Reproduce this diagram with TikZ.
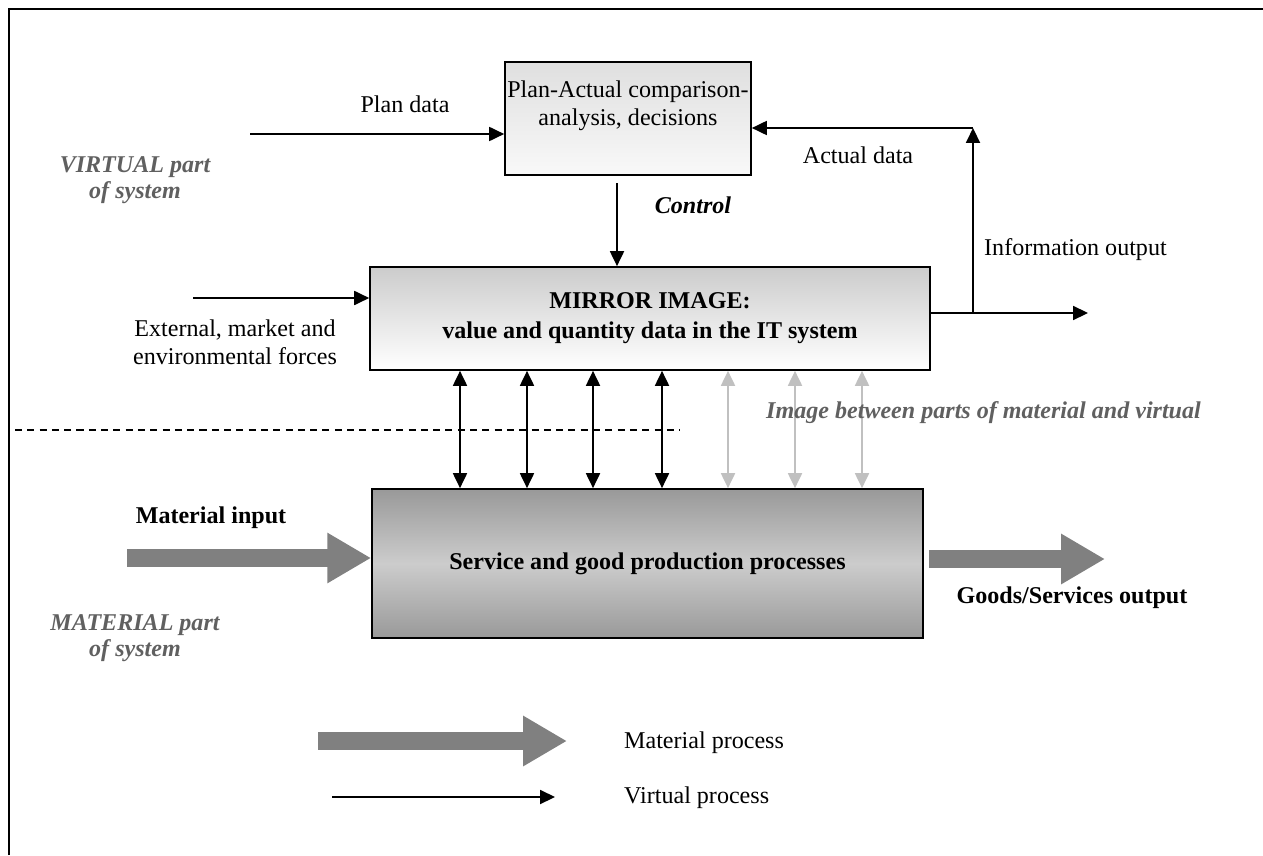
\documentclass[tikz,border=0pt]{standalone}
\usepackage{fontspec}
\setmainfont{Liberation Serif}
\usetikzlibrary{arrows.meta}
\definecolor{matgray}{HTML}{808080}
\definecolor{imggray}{HTML}{C0C0C0}
\definecolor{partgray}{HTML}{606060}
\begin{document}
\begin{tikzpicture}[
        x=0.02cm, y=-0.02cm,
        every node/.style={font=\fontsize{13.7}{16}\selectfont},
        box/.style={
          draw, line width=1pt, inner sep=0pt, align=center,
        },
        varr/.style={-{Triangle[length=8.5pt,width=8pt]}, line width=0.9pt},
        dbl/.style={{Triangle[length=8.5pt,width=8pt]}-{Triangle[length=8.5pt,width=8pt]}, line width=0.9pt},
        gdbl/.style={dbl, draw=imggray, fill=imggray},
        marr/.style={-{Triangle[length=25pt,width=27pt]}, line width=9.7pt, draw=matgray, fill=matgray},
        part/.style={font=\fontsize{13.7}{14.5}\selectfont\bfseries\itshape, text=partgray, align=center},
        bld/.style={font=\fontsize{13.7}{16}\selectfont\bfseries},
      ]
      \useasboundingbox (0,0) rectangle (1263,855);
      \draw[line width=1.2pt] (9,855) -- (9,9) -- (1263,9);

      \node[box, minimum width=4.92cm, minimum height=2.26cm,
            top color=gray!25, bottom color=gray!5] (pa) at (628,118.5) {};
      \node[align=center] (patxt) at (628,106) {Plan-Actual comparison-\\analysis, decisions};

      \node[box, minimum width=11.2cm, minimum height=2.06cm,
            top color=gray!40, bottom color=white, font=\fontsize{13.7}{17}\selectfont\bfseries]
            (mi) at (650,318.5) {MIRROR IMAGE:\\value and quantity data in the IT system};

      \node[box, minimum width=11.02cm, minimum height=2.98cm,
            top color=gray!80, bottom color=gray!80, middle color=gray!40, bld]
            (svc) at (647.5,563.5) {Service and good production processes};

      \coordinate (pd) at (250,134);
      \draw[varr] (pd) -- (pd -| pa.west);
      \node (pdl) at (405,104) {Plan data};

      \coordinate (ctl) at (617,183);
      \draw[varr] (ctl) -- (ctl |- mi.north);
      \node[font=\fontsize{13.7}{16}\selectfont\bfseries\itshape] (ctll) at (693,205) {Control};

      \coordinate (tap) at (973,313);
      \coordinate (up) at (973,128);
      \coordinate (io) at (1088,313);
      \draw[varr] (mi.east |- io) -- (io);
      \draw[varr] (tap) -- (up);
      \draw[varr] (up) -- (up -| pa.east);
      \node (adl) at (858,155) {Actual data};
      \node[anchor=west] (iol) at (978,250) {Information output};

      \coordinate (ex) at (193,298);
      \draw[varr] (ex) -- (ex -| mi.west);
      \node[align=center] (exl) at (235,342) {External, market and\\environmental forces};

      \node[part] (vp) at (135,180) {VIRTUAL part\\of system};
      \node[part] (mp) at (135,638) {MATERIAL part\\of system};

      \coordinate (dl) at (15,430);
      \coordinate (dr) at (680,430);
      \draw[dashed, line width=0.8pt, dash pattern=on 4pt off 3pt] (dl) -- (dr);

      \foreach \x in {460,527,593,662}
        \draw[dbl] (mi.south -| \x,0) -- (svc.north -| \x,0);
      \foreach \x in {728,795,862}
        \draw[gdbl] (mi.south -| \x,0) -- (svc.north -| \x,0);
      \node[part, anchor=west] (imgl) at (760,413) {Image between parts of material and virtual};

      \coordinate (min) at (127,558);
      \draw[marr] (min) -- (min -| svc.west);
      \node[bld] (minl) at (211,518) {Material input};

      \coordinate (gout) at (1105,559);
      \draw[marr] (gout -| svc.east) ++(5,0) -- (gout);
      \node[bld] (goutl) at (1072,598) {Goods/Services output};

      \coordinate (lm1) at (318,741);
      \coordinate (lm2) at (567,741);
      \draw[marr] (lm1) -- (lm2);
      \node[anchor=west] (lml) at (618,743) {Material process};
      \coordinate (lv1) at (332,797);
      \coordinate (lv2) at (555,797);
      \draw[varr] (lv1) -- (lv2);
      \node[anchor=west] (lvl) at (618,798) {Virtual process};
    \end{tikzpicture}
\end{document}
